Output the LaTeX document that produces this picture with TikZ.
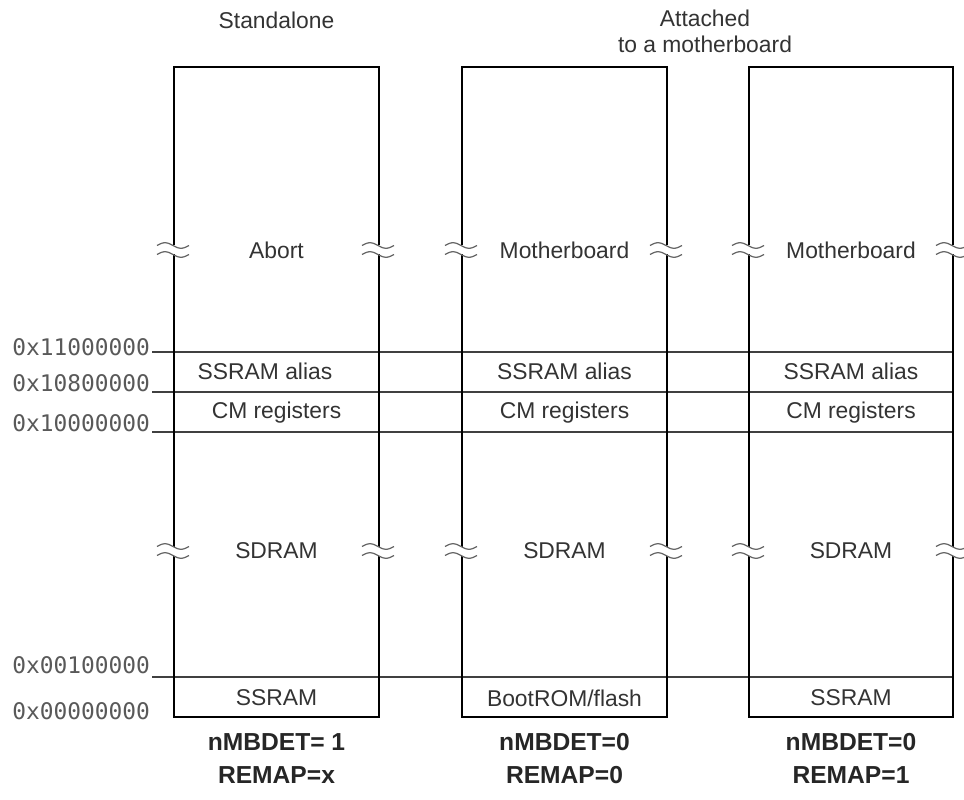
\documentclass[tikz,border=0pt]{standalone}
\usepackage{fontspec}
\setmainfont{Liberation Sans}
\setmonofont{DejaVu Sans Mono}

\tikzset{
  membox/.style={line width=1.6pt},
  divline/.style={line width=0.8pt,color=black!75},
  region/.style={font=\fontsize{13}{15}\selectfont,text=black!80},
  addr/.style={font=\ttfamily\fontsize{13}{15}\selectfont,text=black!65,anchor=east,inner sep=1pt},
  cfg/.style={font=\bfseries\fontsize{14}{16}\selectfont,text=black!85},
  brk/.pic={
    \fill[white] (-0.07,-0.09) rectangle (0.07,0.09);
    \draw[black!60,line width=0.7pt] plot[smooth,samples=30,domain=-0.34:0.3] (\x,{0.09+0.055*sin(562.5*(\x+0.34))});
    \draw[black!60,line width=0.7pt] plot[smooth,samples=30,domain=-0.34:0.3] (\x,{-0.09+0.055*sin(562.5*(\x+0.34))});
  }
}

\begin{document}
\begin{tikzpicture}
  \useasboundingbox (0,0) rectangle (19.28,15.98);

  % address boundaries
  \draw[divline] (3.04,8.94) -- (19.06,8.94);
  \draw[divline] (3.04,8.14) -- (19.06,8.14);
  \draw[divline] (3.04,7.34) -- (19.06,7.34);
  \draw[divline] (3.04,2.44) -- (19.06,2.44);

  % the three maps
  \draw[membox] (3.48,1.64) rectangle (7.58,14.64);
  \draw[membox] (9.24,1.64) rectangle (13.34,14.64);
  \draw[membox] (14.98,1.64) rectangle (19.06,14.64);

  % breaks
  \foreach \bx in {3.48,7.58,9.24,13.34,14.98,19.06}
    \foreach \by in {10.98,4.96}
      \pic at (\bx,\by) {brk};

  \node[addr] (a11) at (3.04,9.04) {0x11000000};
  \node[addr] (a108) at (3.04,8.32) {0x10800000};
  \node[addr] (a10) at (3.04,7.52) {0x10000000};
  \node[addr] (a001) at (3.04,2.68) {0x00100000};
  \node[addr] (a0) at (3.04,1.76) {0x00000000};

  \node[region] (stand) at (5.53,15.58) {Standalone};
  \node[region,align=center] (attach) at (14.1,15.35) {Attached\\to a motherboard};

  % standalone
  \node[region] (abort) at (5.53,10.98) {Abort};
  \node[region] (alias1) at (5.3,8.56) {SSRAM alias};
  \node[region] (cm1) at (5.53,7.72) {CM registers};
  \node[region] (sdram1) at (5.53,4.96) {SDRAM};
  \node[region] (ssram1) at (5.53,2.02) {SSRAM};

  % remap 0
  \node[region] (mb2) at (11.29,10.98) {Motherboard};
  \node[region] (alias2) at (11.29,8.56) {SSRAM alias};
  \node[region] (cm2) at (11.29,7.72) {CM registers};
  \node[region] (sdram2) at (11.29,4.96) {SDRAM};
  \node[region] (boot2) at (11.29,2.02) {BootROM/flash};

  % remap 1
  \node[region] (mb3) at (17.02,10.98) {Motherboard};
  \node[region] (alias3) at (17.02,8.56) {SSRAM alias};
  \node[region] (cm3) at (17.02,7.72) {CM registers};
  \node[region] (sdram3) at (17.02,4.96) {SDRAM};
  \node[region] (ssram3) at (17.02,2.02) {SSRAM};

  \node[cfg] (det1) at (5.53,1.14) {nMBDET= 1};
  \node[cfg] (rmp1) at (5.53,0.48) {REMAP=x};
  \node[cfg] (det2) at (11.29,1.14) {nMBDET=0};
  \node[cfg] (rmp2) at (11.29,0.48) {REMAP=0};
  \node[cfg] (det3) at (17.02,1.14) {nMBDET=0};
  \node[cfg] (rmp3) at (17.02,0.48) {REMAP=1};
\end{tikzpicture}
\end{document}
